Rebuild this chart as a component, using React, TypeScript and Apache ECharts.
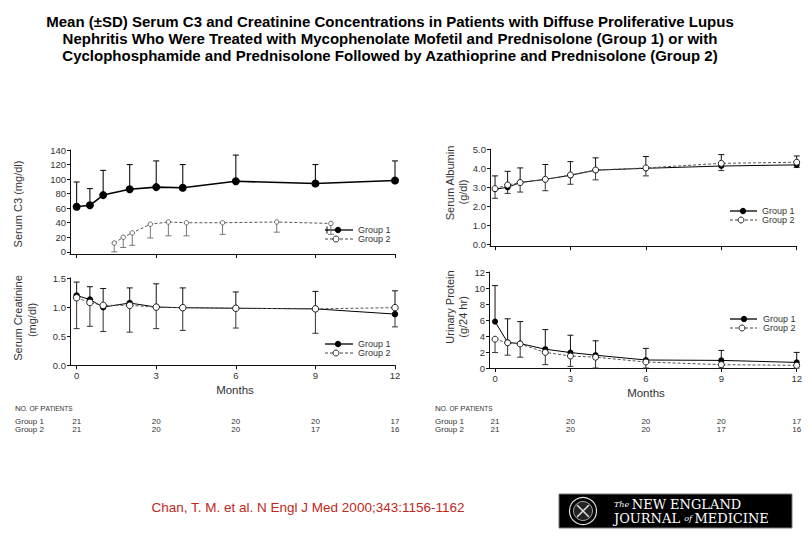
import React, { useEffect, useRef } from 'react';
import * as echarts from 'echarts';

// ---------- data ----------
const months = [0, 0.5, 1, 2, 3, 4, 6, 9, 12];
const tickMonths = [0, 3, 6, 9, 12];

// Serum C3 (mg/dl)
const c3G1 = [62, 64, 78, 86, 89, 88, 97, 94, 98];
const c3G1Upper = [96, 87, 112, 120, 125, 120, 133, 120, 125];
const c3G2 = [12, 20, 26, 38, 41, 40, 40, 41, 39];
const c3G2Lower = [0, 6, 9, 19, 22, 22, 24, 27, 24];

// Serum creatinine (mg/dl)
const crG1 = [1.2, 1.13, 1.0, 1.07, 1.0, 0.99, 0.98, 0.97, 0.88];
const crG1Upper = [1.43, 1.35, 1.32, 1.33, 1.4, 1.33, 1.26, 1.27, 1.28];
const crG2 = [1.16, 1.08, 1.03, 1.03, 1.0, 0.99, 0.98, 0.97, 0.99];
const crG2Lower = [0.63, 0.67, 0.58, 0.57, 0.63, 0.6, 0.64, 0.55, 0.66];

// Serum albumin (g/dl)
const alG1 = [2.9, 3.0, 3.25, 3.42, 3.63, 3.9, 4.0, 4.12, 4.18];
const alG1Upper = [3.6, 3.84, 4.02, 4.2, 4.35, 4.55, 4.62, 4.72, 4.65];
const alG2 = [2.93, 3.12, 3.25, 3.42, 3.65, 3.91, 4.02, 4.26, 4.32];
const alG2Lower = [2.42, 2.68, 2.75, 2.82, 3.16, 3.39, 3.6, 3.88, 4.04];

// Urinary protein (g/24 hr)
const upG1 = [5.8, 3.2, 3.05, 2.35, 1.93, 1.6, 1.0, 0.95, 0.7];
const upG1Upper = [10.3, 6.15, 5.8, 4.8, 4.1, 3.4, 2.45, 2.2, 1.95];
const upG2 = [3.6, 3.15, 3.0, 1.95, 1.5, 1.35, 0.75, 0.42, 0.33];
const upG2Lower = [1.93, 1.6, 1.35, 0.42, 0.2, 0, 0, 0, 0];

// Number of patients
const leftPatientsG1 = [21, 20, 20, 20, 17];
const leftPatientsG2 = [21, 20, 20, 17, 16];
const rightPatientsG1 = [21, 20, 20, 20, 17];
const rightPatientsG2 = [21, 20, 20, 17, 16];

const titleLines = [
  'Mean (\u00b1SD) Serum C3 and Creatinine Concentrations in Patients with Diffuse Proliferative Lupus',
  'Nephritis Who Were Treated with Mycophenolate Mofetil and Prednisolone (Group 1) or with',
  'Cyclophosphamide and Prednisolone Followed by Azathioprine and Prednisolone (Group 2)',
];
const citation = 'Chan, T. M. et al. N Engl J Med 2000;343:1156-1162';

// ---------- helpers ----------
const FONT = '"Liberation Sans", Arial, sans-serif';
const SERIF = '"DejaVu Serif", "Liberation Serif", serif';
const AX = '#333';

const pairs = (xs: number[], ys: number[]) => xs.map((x, i) => [x, ys[i]]);
const triples = (xs: number[], ys: number[], bs: number[]) => xs.map((x, i) => [x, ys[i], bs[i]]);

function errRender(color: string, width: number, cap: number) {
  return (params: any, api: any) => {
    const x = api.value(0);
    const p1 = api.coord([x, api.value(1)]);
    const p2 = api.coord([x, api.value(2)]);
    const st = { stroke: color, lineWidth: width };
    return {
      type: 'group',
      children: [
        { type: 'line', shape: { x1: p1[0], y1: p1[1], x2: p2[0], y2: p2[1] }, style: st },
        { type: 'line', shape: { x1: p2[0] - cap, y1: p2[1], x2: p2[0] + cap, y2: p2[1] }, style: st },
      ],
    };
  };
}

function xAxisCfg(grid: number, min: number, showLabels: boolean) {
  return {
    type: 'value',
    gridIndex: grid,
    min,
    max: 12,
    axisLine: { show: true, onZero: false, lineStyle: { color: '#111', width: 1 } },
    axisTick: { show: true, length: 4, customValues: tickMonths, lineStyle: { color: '#111' } },
    axisLabel: {
      show: showLabels,
      customValues: tickMonths,
      color: AX,
      fontFamily: FONT,
      fontSize: 9.5,
      margin: 5,
    },
    splitLine: { show: false },
  };
}

function yAxisCfg(grid: number, min: number, max: number, ticks: number[], digits: number) {
  return {
    type: 'value',
    gridIndex: grid,
    min,
    max,
    axisLine: { show: true, onZero: false, lineStyle: { color: '#111', width: 1 } },
    axisTick: { show: true, length: 3, customValues: ticks, lineStyle: { color: '#111' } },
    axisLabel: {
      customValues: ticks,
      color: AX,
      fontFamily: FONT,
      fontSize: 9.5,
      margin: 4,
      formatter: (v: number) => v.toFixed(digits),
    },
    splitLine: { show: false },
  };
}

function g1Line(xi: number, yi: number, data: number[][], size: number, width: number) {
  return {
    type: 'line',
    xAxisIndex: xi,
    yAxisIndex: yi,
    data,
    symbol: 'circle',
    symbolSize: size,
    showAllSymbol: true,
    itemStyle: { color: '#000' },
    lineStyle: { color: '#000', width },
    z: 4,
    silent: true,
  };
}

function g2Line(xi: number, yi: number, data: number[][], size: number, border: string) {
  return {
    type: 'line',
    xAxisIndex: xi,
    yAxisIndex: yi,
    data,
    symbol: 'circle',
    symbolSize: size,
    showAllSymbol: true,
    itemStyle: { color: '#fff', borderColor: border, borderWidth: 1 },
    lineStyle: { color: '#555', width: 1, type: [3, 2] },
    z: 5,
    silent: true,
  };
}

function errSeries(xi: number, yi: number, data: number[][], color: string, width: number) {
  return {
    type: 'custom',
    xAxisIndex: xi,
    yAxisIndex: yi,
    data,
    renderItem: errRender(color, width, 3),
    z: 2,
    silent: true,
  };
}

function legend(x1: number, x2: number, mx: number, y1: number, y2: number, tx: number, errTick: boolean) {
  const els: any[] = [
    { type: 'line', shape: { x1, y1, x2, y2: y1 }, style: { stroke: '#000', lineWidth: 1.3 } },
    { type: 'circle', shape: { cx: mx, cy: y1, r: 3.2 }, style: { fill: '#000' } },
    { type: 'line', shape: { x1, y1: y2, x2, y2 }, style: { stroke: '#444', lineWidth: 1, lineDash: [3, 2] } },
    { type: 'circle', shape: { cx: mx - 2, cy: y2, r: 3 }, style: { fill: '#fff', stroke: '#222', lineWidth: 1 } },
    { type: 'text', x: tx, y: y1, style: { text: 'Group 1', font: `9px ${FONT}`, fill: AX, verticalAlign: 'middle' } },
    { type: 'text', x: tx, y: y2, style: { text: 'Group 2', font: `9px ${FONT}`, fill: AX, verticalAlign: 'middle' } },
  ];
  if (errTick) {
    els.push({ type: 'line', shape: { x1: x1 + 2, y1: y1 - 3.5, x2: x1 + 2, y2: y1 + 3.5 }, style: { stroke: '#000', lineWidth: 1 } });
  }
  return els;
}

function vText(text: string, x: number, y: number) {
  return {
    type: 'text',
    x,
    y,
    rotation: Math.PI / 2,
    style: { text, font: `11px ${FONT}`, fill: AX, align: 'center', verticalAlign: 'middle' },
  };
}

export default function App() {
  const ref = useRef<HTMLDivElement>(null);
  useEffect(() => {
    const chart = echarts.init(ref.current!, null, { renderer: 'svg' });
    const option: any = {
      animation: false,
      backgroundColor: '#fff',
      grid: [
        { left: 70, top: 150, width: 325, height: 104 },
        { left: 70, top: 278, width: 325, height: 87.3 },
        { left: 490, top: 149.3, width: 306.7, height: 96.9 },
        { left: 489, top: 272, width: 307.7, height: 96 },
      ],
      xAxis: [
        xAxisCfg(0, -0.25, false),
        xAxisCfg(1, -0.25, true),
        xAxisCfg(2, -0.2, false),
        xAxisCfg(3, -0.24, true),
        { type: 'value', gridIndex: 0, min: -2.449, max: 15.55, show: false },
      ],
      yAxis: [
        yAxisCfg(0, -3, 140, [0, 20, 40, 60, 80, 100, 120, 140], 0),
        yAxisCfg(1, 0, 1.5, [0, 0.5, 1, 1.5], 1),
        yAxisCfg(2, -0.1, 5, [0, 1, 2, 3, 4, 5], 1),
        yAxisCfg(3, 0, 12, [0, 2, 4, 6, 8, 10, 12], 0),
      ],
      series: [
        // C3
        errSeries(0, 0, triples(months, c3G1, c3G1Upper), '#111', 1.1),
        errSeries(4, 0, triples(months, c3G2, c3G2Lower), '#777', 1),
        g1Line(0, 0, pairs(months, c3G1), 8, 1.6),
        g2Line(4, 0, pairs(months, c3G2), 4.5, '#666'),
        // Creatinine
        errSeries(1, 1, triples(months, crG1, crG1Upper), '#111', 1),
        errSeries(1, 1, triples(months, crG2, crG2Lower), '#333', 1),
        g1Line(1, 1, pairs(months, crG1), 6.5, 1),
        g2Line(1, 1, pairs(months, crG2), 6.5, '#222'),
        // Albumin
        errSeries(2, 2, triples(months, alG1, alG1Upper), '#111', 1),
        errSeries(2, 2, triples(months, alG2, alG2Lower), '#333', 1),
        g1Line(2, 2, pairs(months, alG1), 6, 1),
        g2Line(2, 2, pairs(months, alG2), 6, '#222'),
        // Urinary protein
        errSeries(3, 3, triples(months, upG1, upG1Upper), '#111', 1),
        errSeries(3, 3, triples(months, upG2, upG2Lower), '#333', 1),
        g1Line(3, 3, pairs(months, upG1), 6, 1),
        g2Line(3, 3, pairs(months, upG2), 6, '#222'),
      ],
    };
    chart.setOption(option);

    const g: any[] = [];
    titleLines.forEach((t, i) => {
      g.push({
        type: 'text',
        x: 390,
        y: 21 + i * 17,
        style: { text: t, font: `bold 15px ${FONT}`, fill: '#000', align: 'center', verticalAlign: 'middle' },
      });
    });
    // axis titles
    g.push(vText('Serum C3 (mg/dl)', 18, 204));
    g.push(vText('Serum Creatinine', 18, 318));
    g.push(vText('(mg/dl)', 32, 320));
    g.push(vText('Serum Albumin', 450, 183));
    g.push(vText('(g/dl)', 463, 192));
    g.push(vText('Urinary Protein', 450, 307));
    g.push(vText('(g/24 hr)', 463, 317));
    g.push({ type: 'text', x: 235, y: 390, style: { text: 'Months', font: `11.5px ${FONT}`, fill: AX, align: 'center', verticalAlign: 'middle' } });
    g.push({ type: 'text', x: 646, y: 393, style: { text: 'Months', font: `11.5px ${FONT}`, fill: AX, align: 'center', verticalAlign: 'middle' } });
    // legends
    g.push(...legend(325, 353, 338, 230, 239, 358, true));
    g.push(...legend(325, 353, 338, 344, 353, 358, false));
    g.push(...legend(730, 757, 743, 211, 220, 762, false));
    g.push(...legend(730, 757, 744, 319, 328, 763, false));

    // patient tables
    const tables = [
      { axis: 1, left: 15, g1: leftPatientsG1, g2: leftPatientsG2 },
      { axis: 3, left: 435, g1: rightPatientsG1, g2: rightPatientsG2 },
    ];
    tables.forEach((tb) => {
      g.push({
        type: 'text',
        x: tb.left,
        y: 408,
        style: {
          text: '{a|N}{b|O. OF }{a|P}{b|ATIENTS}',
          fill: AX,
          verticalAlign: 'middle',
          rich: {
            a: { fontFamily: FONT, fontSize: 8, fill: AX },
            b: { fontFamily: FONT, fontSize: 6.5, fill: AX },
          },
        },
      });
      g.push({ type: 'text', x: tb.left, y: 421.5, style: { text: 'Group 1', font: `8px ${FONT}`, fill: AX, verticalAlign: 'middle' } });
      g.push({ type: 'text', x: tb.left, y: 429.5, style: { text: 'Group 2', font: `8px ${FONT}`, fill: AX, verticalAlign: 'middle' } });
      tickMonths.forEach((m, i) => {
        const px = chart.convertToPixel({ xAxisIndex: tb.axis }, m) as number;
        g.push({ type: 'text', x: px, y: 421.5, style: { text: String(tb.g1[i]), font: `8px ${FONT}`, fill: AX, align: 'center', verticalAlign: 'middle' } });
        g.push({ type: 'text', x: px, y: 429.5, style: { text: String(tb.g2[i]), font: `8px ${FONT}`, fill: AX, align: 'center', verticalAlign: 'middle' } });
      });
    });

    // citation
    g.push({ type: 'text', x: 308, y: 507, style: { text: citation, font: `13.5px ${FONT}`, fill: '#c0281c', align: 'center', verticalAlign: 'middle' } });

    // NEJM logo
    g.push({ type: 'rect', shape: { x: 559, y: 494, width: 233, height: 34 }, style: { fill: '#000', stroke: '#777', lineWidth: 1 } });
    g.push({ type: 'circle', shape: { cx: 583, cy: 511, r: 13.5 }, style: { fill: '#000', stroke: '#ddd', lineWidth: 1.2 } });
    g.push({ type: 'circle', shape: { cx: 583, cy: 511, r: 9.5 }, style: { fill: '#222', stroke: '#ccc', lineWidth: 0.8 } });
    g.push({ type: 'line', shape: { x1: 577, y1: 505, x2: 589, y2: 517 }, style: { stroke: '#ddd', lineWidth: 1.5 } });
    g.push({ type: 'line', shape: { x1: 589, y1: 505, x2: 577, y2: 517 }, style: { stroke: '#ddd', lineWidth: 1.5 } });
    g.push({
      type: 'text',
      x: 614,
      y: 504,
      style: {
        text: '{s|The }{b|NEW ENGLAND}',
        verticalAlign: 'middle',
        rich: {
          s: { fontFamily: SERIF, fontStyle: 'italic', fontSize: 8, fill: '#fff' },
          b: { fontFamily: SERIF, fontSize: 13, fill: '#fff' },
        },
      },
    });
    g.push({
      type: 'text',
      x: 614,
      y: 518.5,
      style: {
        text: '{b|JOURNAL }{s|of }{b|MEDICINE}',
        verticalAlign: 'middle',
        rich: {
          s: { fontFamily: SERIF, fontStyle: 'italic', fontSize: 8, fill: '#fff' },
          b: { fontFamily: SERIF, fontSize: 13, fill: '#fff' },
        },
      },
    });

    chart.setOption({ graphic: g });
    return () => chart.dispose();
  }, []);
  return (
    <div
      ref={ref}
      style={{ position: 'fixed', left: 0, top: 0, width: 810, height: 540, background: '#fff' }}
    />
  );
}
